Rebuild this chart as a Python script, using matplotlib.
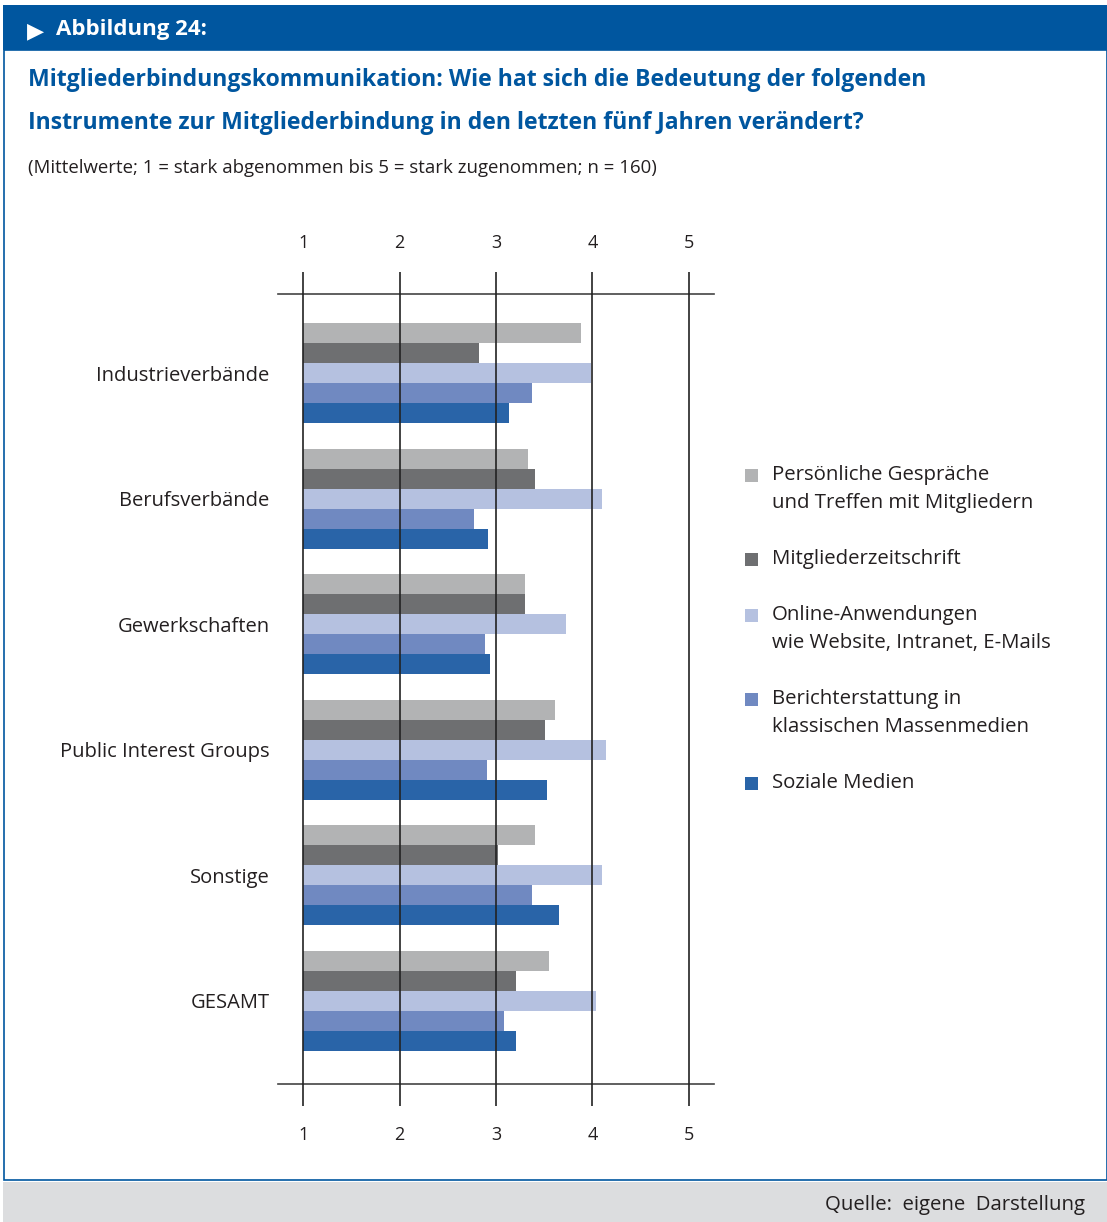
import numpy as np
import matplotlib.pyplot as plt
from matplotlib.patches import Rectangle

W, H = 1107, 1222

categories = ["Industrieverbände", "Berufsverbände", "Gewerkschaften",
              "Public Interest Groups", "Sonstige", "GESAMT"]
series_names = ["Persönliche Gespräche\nund Treffen mit Mitgliedern",
                "Mitgliederzeitschrift",
                "Online-Anwendungen\nwie Website, Intranet, E-Mails",
                "Berichterstattung in\nklassischen Massenmedien",
                "Soziale Medien"]
persoenlich = [3.88, 3.33, 3.30, 3.61, 3.40, 3.55]
zeitschrift = [2.82, 3.40, 3.30, 3.51, 3.02, 3.21]
online      = [3.99, 4.10, 3.73, 4.14, 4.10, 4.04]
massenmedien = [3.37, 2.77, 2.89, 2.91, 3.37, 3.08]
sozial      = [3.14, 2.92, 2.94, 3.53, 3.65, 3.21]
ticks = [1, 2, 3, 4, 5]

colors = ["#b2b3b4", "#6e6f71", "#b5c1e0", "#7089c1", "#2964a8"]
BLUE = "#00569f"
TEXT = "#231f20"

plt.rcParams["font.family"] = ["Open Sans", "DejaVu Sans"]

fig = plt.figure(figsize=(W / 100, H / 100), dpi=100)


def fx(px):
    return px / W


def fy(py):
    return 1 - py / H


# header bar, frame, footer
fig.add_artist(Rectangle((fx(3), fy(50)), fx(1104), 45 / H, transform=fig.transFigure,
                         facecolor=BLUE, edgecolor="none"))
fig.add_artist(Rectangle((fx(3.5), fy(1180)), fx(1103), 1130 / H, transform=fig.transFigure,
                         facecolor="none", edgecolor=BLUE, linewidth=1.2))
fig.add_artist(Rectangle((fx(3), 0), fx(1104), 40 / H, transform=fig.transFigure,
                         facecolor="#dcdddf", edgecolor="none"))

fig.text(fx(27), fy(31), "▶", color="white", fontsize=16, va="center", ha="left",
         family="DejaVu Sans")
fig.text(fx(56), fy(30), "Abbildung 24:", color="white", fontsize=16,
         fontweight="bold", va="center", ha="left")
fig.text(fx(28), fy(80), "Mitgliederbindungskommunikation: Wie hat sich die Bedeutung der folgenden",
         color=BLUE, fontsize=16.6, fontweight="bold", va="center", ha="left")
fig.text(fx(28), fy(123), "Instrumente zur Mitgliederbindung in den letzten fünf Jahren verändert?",
         color=BLUE, fontsize=16.6, fontweight="bold", va="center", ha="left")
fig.text(fx(28), fy(168), "(Mittelwerte; 1 = stark abgenommen bis 5 = stark zugenommen; n = 160)",
         color=TEXT, fontsize=13.4, va="center", ha="left")
fig.text(fx(1085), fy(1205), "Quelle:  eigene  Darstellung", color=TEXT, fontsize=14.7,
         va="center", ha="right")

# chart axes
ax_l, ax_r, ax_t, ax_b = 278, 714, 294, 1084
ax = fig.add_axes([fx(ax_l), fy(ax_b), (ax_r - ax_l) / W, (ax_b - ax_t) / H])
pitch = 125.6
ax.set_xlim(1 - 25.3 / 96.3, 5 + 25.3 / 96.3)
ax.set_ylim(5 + (1084 - 1001) / pitch, -(373 - 294) / pitch)

y = np.arange(len(categories))
bh = 20 / pitch
data = [persoenlich, zeitschrift, online, massenmedien, sozial]
for k, (vals, c) in enumerate(zip(data, colors)):
    ax.barh(y + (k - 2) * bh, np.array(vals) - 1, left=1, height=bh, color=c,
            edgecolor="none", zorder=1)

ax.set_xticks(ticks)
ax.set_xticklabels([str(t) for t in ticks])
ax.grid(axis="x", color="#222222", linewidth=1.2, zorder=3)
ax.set_axisbelow(False)
ax.tick_params(axis="x", top=True, bottom=True, labeltop=True, labelbottom=True,
               direction="out", length=16, width=1.2, color="#222222",
               labelsize=13, labelcolor=TEXT, pad=14)
ax.set_yticks(y)
ax.set_yticklabels(categories)
ax.tick_params(axis="y", length=0, labelsize=14.5, labelcolor=TEXT, pad=6)
for s in ["left", "right"]:
    ax.spines[s].set_visible(False)
for s in ["top", "bottom"]:
    ax.spines[s].set_color("#444444")
    ax.spines[s].set_linewidth(1.2)

# legend, square aligned with first text line
line_h, gap = 28, 56
ly = 475
for name, c in zip(series_names, colors):
    fig.add_artist(Rectangle((fx(745), fy(ly + 6.5)), 13 / W, 13 / H,
                             transform=fig.transFigure, facecolor=c, edgecolor="none"))
    lines = name.split("\n")
    for i, line in enumerate(lines):
        fig.text(fx(772), fy(ly + i * line_h), line, color=TEXT, fontsize=14.7,
                 va="center", ha="left")
    ly += (len(lines) - 1) * line_h + gap

fig.savefig("out.png", dpi=100)
